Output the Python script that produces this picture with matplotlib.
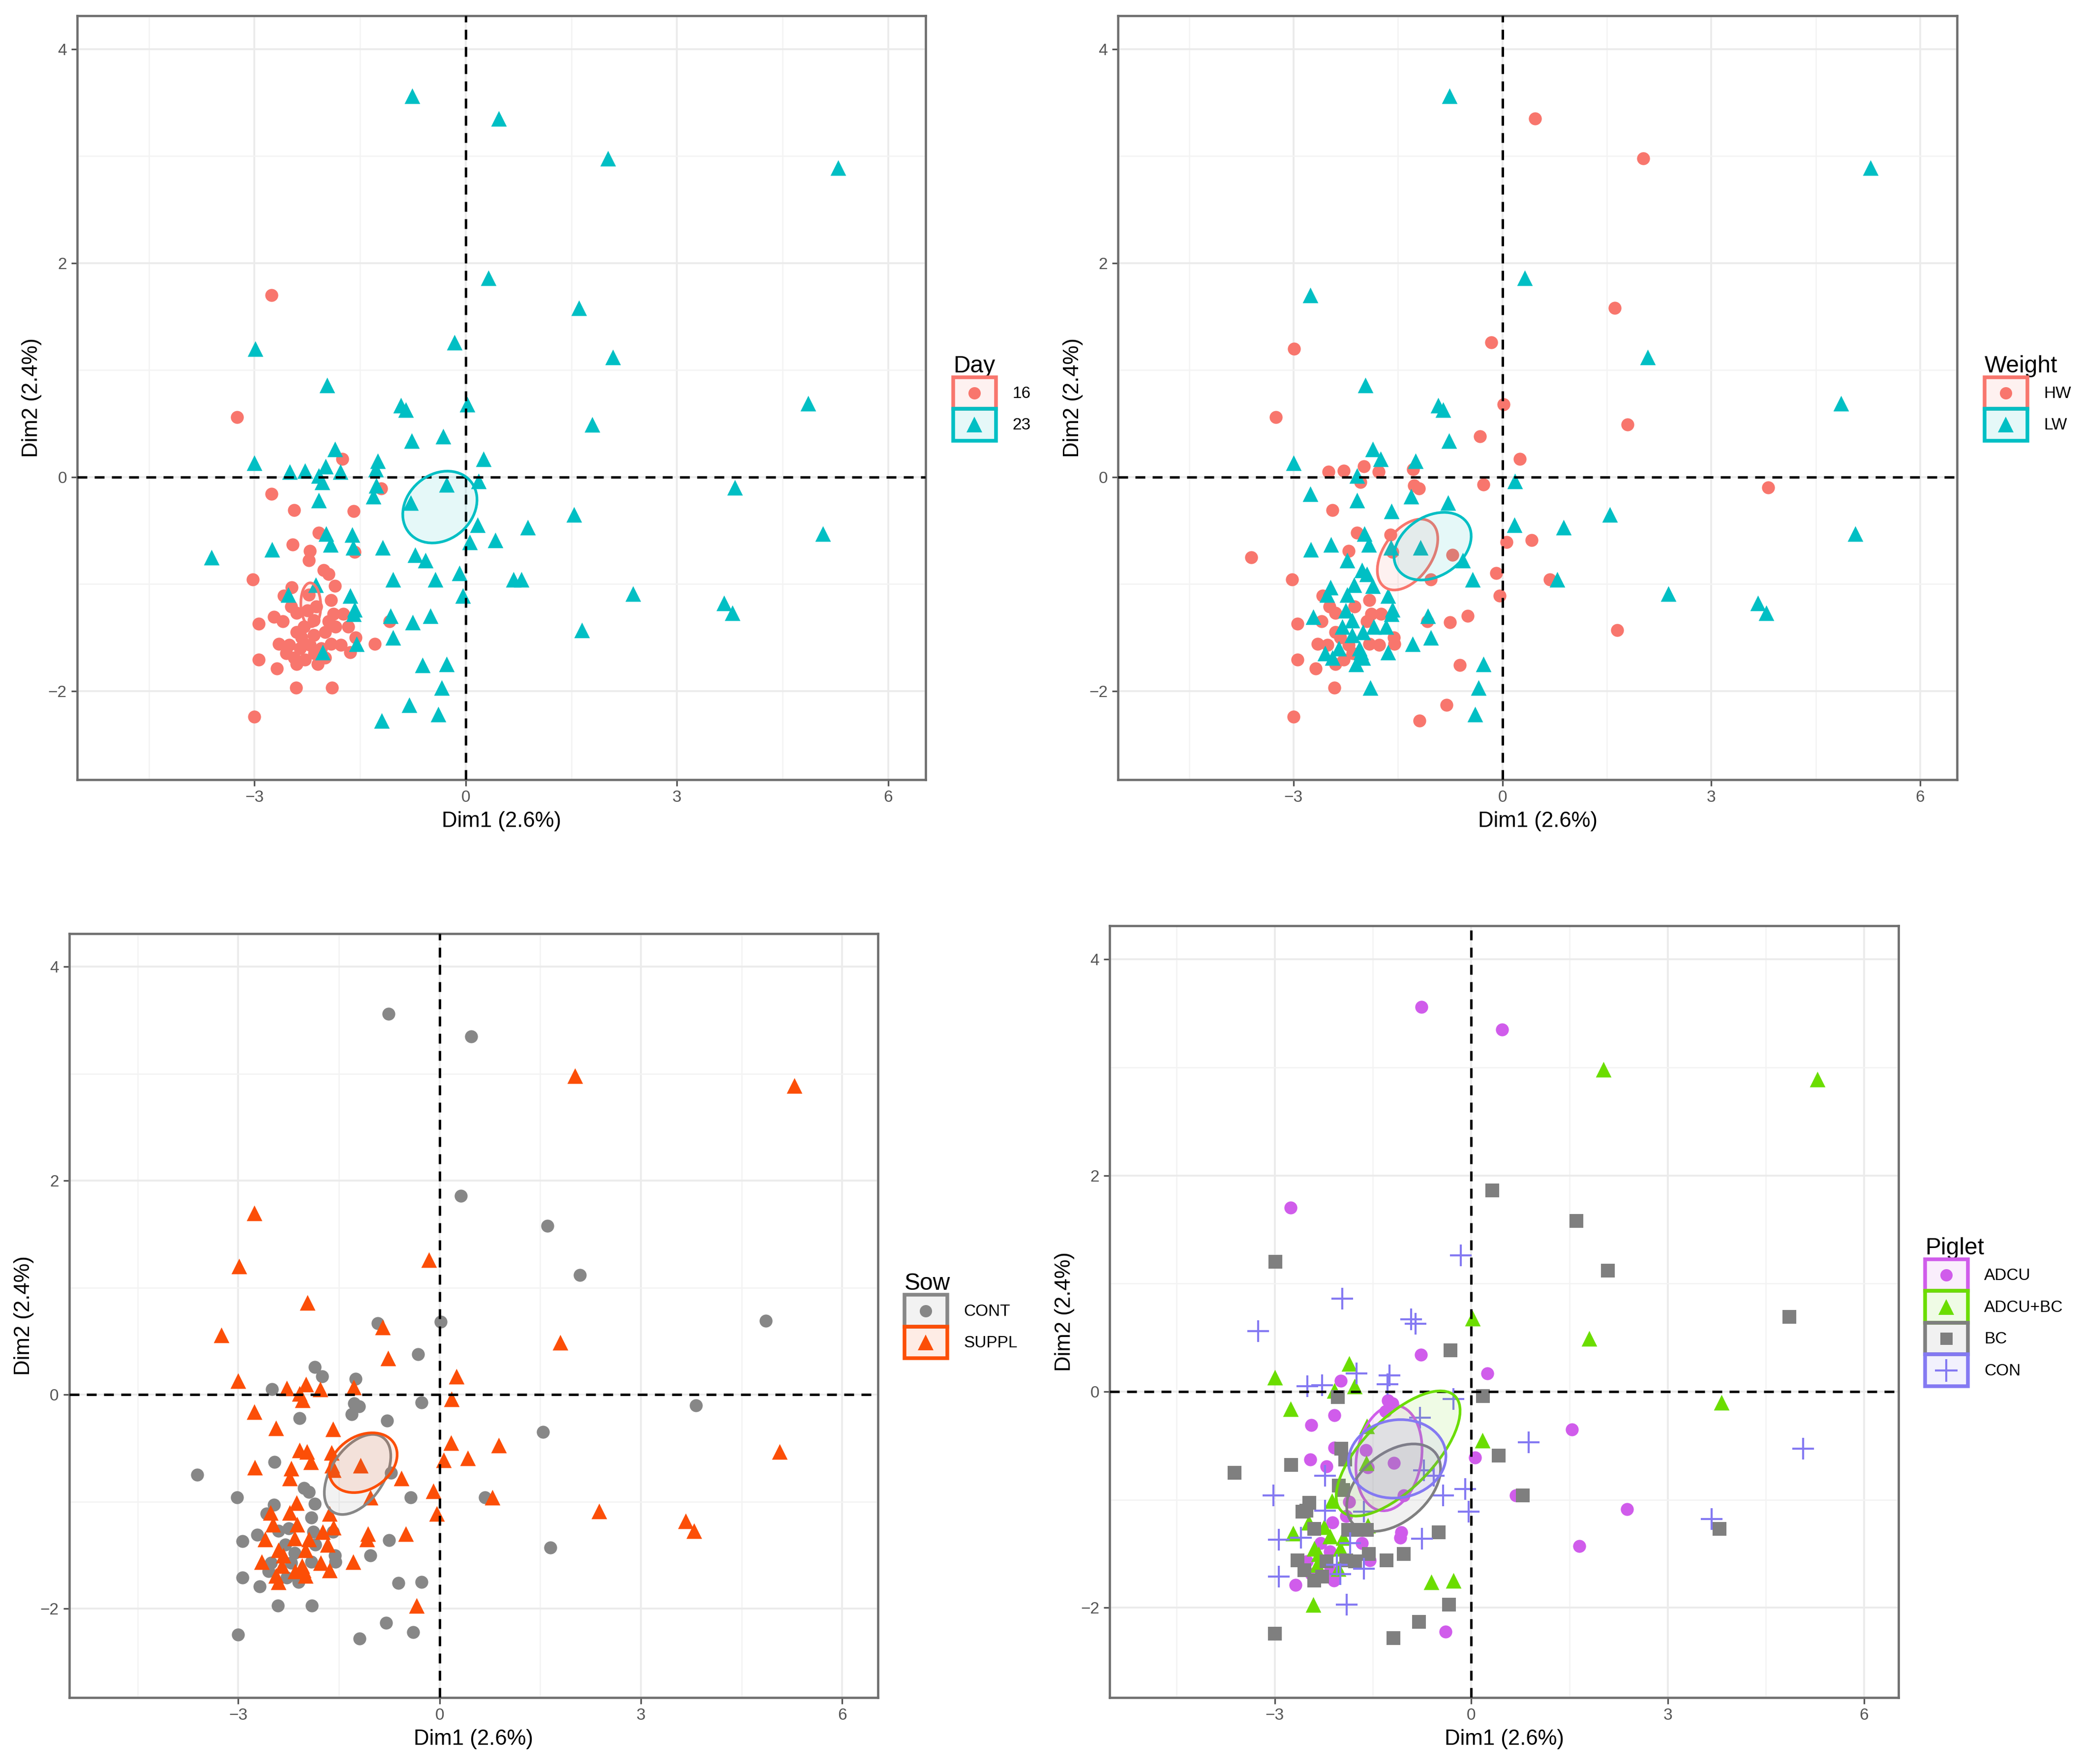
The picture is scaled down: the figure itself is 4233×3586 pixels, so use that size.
import numpy as np
import matplotlib
matplotlib.use("Agg")
import matplotlib.pyplot as plt
from matplotlib.patches import Rectangle, Ellipse
from matplotlib.lines import Line2D
from matplotlib.legend_handler import HandlerBase
from matplotlib.colors import to_rgba

plt.rcParams['font.family'] = ['Liberation Sans', 'DejaVu Sans']

# =========================
# 1. Data (PCA individuals, Dim1 / Dim2)
# =========================
dim1 = [
    -0.76, 0.47, 2.02, 5.29, 0.32, 1.61, -0.16, 2.09, -2.76, -2.99,
    -1.97, 4.86, -0.92, -0.85, 0.02, 1.80, -0.77, -0.32, -3.25, -1.86,
    -1.75, 0.25, -3.00, -1.25, -2.50, -2.28, -1.99, -1.78, -2.09, -2.04,
    -1.28, 0.18, 3.82, -1.27, -1.20, -1.31, -0.27, -0.78, -2.09, -2.76,
    -2.44, -1.59, 1.54, 0.17, 0.88, 5.07, 0.42, 0.06, -2.09, -1.98,
    -1.61, -2.46, -1.92, -2.75, -3.61, -1.18, -0.72, -0.57, -0.09, -0.43,
    -1.03, 0.68, 0.79, -3.02, -0.04, 2.38, 3.67, 3.79, 1.65, -0.75,
    -0.50, -1.07, -1.03, -0.61, -0.27, -0.34, -0.80, -0.39, -1.19, -1.90,
    -2.41, -3.00, -2.94, -2.68, -2.94, -2.72, -1.29, -1.64, -2.03, -1.55,
    -1.58, -1.59, -2.13, -1.64, -2.52, -1.60, -1.58, -1.08,
    -2.21, -2.23, -2.02, -1.95, -2.47, -1.86, -2.58, -2.23, -1.91, -2.48,
    -2.40, -2.12, -1.88, -1.74, -2.16, -1.67, -1.56, -2.33, -2.16, -2.00,
    -2.65, -2.51, -2.35, -2.21, -2.05, -1.91, -2.44, -2.28, -2.00, -1.77,
    -2.30, -2.40, -2.55, -2.15, -1.85, -2.60, -2.10, -2.40, -2.25, -1.95,
]
dim2 = [
    3.56, 3.35, 2.98, 2.89, 1.86, 1.58, 1.26, 1.12, 1.70, 1.20,
    0.86, 0.69, 0.67, 0.63, 0.68, 0.49, 0.34, 0.38, 0.56, 0.26,
    0.17, 0.17, 0.13, 0.15, 0.05, 0.06, 0.10, 0.05, 0.01, -0.05,
    0.07, -0.04, -0.10, -0.08, -0.11, -0.18, -0.07, -0.24, -0.22, -0.16,
    -0.31, -0.32, -0.35, -0.45, -0.47, -0.53, -0.59, -0.61, -0.52, -0.53,
    -0.54, -0.63, -0.63, -0.68, -0.75, -0.66, -0.73, -0.78, -0.90, -0.96,
    -0.96, -0.96, -0.96, -0.96, -1.11, -1.09, -1.18, -1.27, -1.43, -1.36,
    -1.30, -1.30, -1.50, -1.76, -1.75, -1.97, -2.13, -2.22, -2.28, -1.97,
    -1.97, -2.24, -1.71, -1.79, -1.37, -1.31, -1.56, -1.64, -1.64, -1.56,
    -1.24, -1.28, -1.01, -1.11, -1.10, -0.66, -0.70, -1.35,
    -0.69, -0.78, -0.87, -0.91, -1.03, -1.02, -1.11, -1.10, -1.15, -1.21,
    -1.27, -1.21, -1.28, -1.28, -1.34, -1.40, -1.50, -1.50, -1.48, -1.45,
    -1.56, -1.57, -1.60, -1.57, -1.60, -1.56, -1.69, -1.71, -1.69, -1.57,
    -1.40, -1.45, -1.65, -1.65, -1.40, -1.35, -1.75, -1.75, -1.25, -1.35,
]
day = [
    23, 23, 23, 23, 23, 23, 23, 23, 16, 23,
    23, 23, 23, 23, 23, 23, 23, 23, 16, 23,
    16, 23, 23, 23, 23, 23, 23, 23, 23, 23,
    23, 23, 23, 23, 16, 23, 23, 23, 23, 16,
    16, 16, 23, 23, 23, 23, 23, 23, 16, 23,
    23, 16, 23, 23, 23, 23, 23, 23, 23, 23,
    23, 23, 23, 16, 23, 23, 23, 23, 23, 23,
    23, 23, 23, 23, 23, 23, 23, 23, 23, 16,
    16, 16, 16, 16, 16, 16, 16, 16, 23, 23,
    23, 23, 23, 23, 23, 23, 16, 16,
] + [16] * 40
weight = list(
    "LHHLLHHLLH" "LLLLHHLHHL" "LHLLHHHHLH" "HLHHHLHLLL"
    "HLLLLLHHHL" "HLLLHLHLHL" "HHLHHLLLHH" "HLLHLLHLHL"
    "HHHHHLLLLH" "LLLLLLHH"
    "HLLLLLHLHH" "HHHHLLHHLL" "HHLHLHLHLH" "LHLHLHLHLH"
)
sow = list(
    "CCSSCCSCSS" "SCCSCSSCSC" "CSSCCSSSSS" "SSCCCCCCCS"
    "SSCSSSSSSS" "SCSSCSCSSC" "SCSCSSSSCC" "SSCCCSCCCC"
    "CCCCCCSSSC" "SCSSSSSS"
    "SSCCCCCSCS" "CSCSSSCSCS" "SCSCSCSCSS" "CSCSCSCSCS"
)
piglet = [
    "A", "A", "AB", "AB", "B", "B", "N", "B", "A", "B",
    "N", "B", "N", "N", "AB", "AB", "A", "B", "N", "AB",
    "N", "A", "AB", "N", "N", "N", "A", "AB", "AB", "B",
    "N", "B", "AB", "A", "A", "A", "N", "N", "A", "AB",
    "A", "AB", "A", "AB", "N", "N", "B", "A", "A", "B",
    "A", "A", "B", "B", "B", "A", "N", "N", "N", "N",
    "A", "A", "B", "N", "N", "A", "N", "B", "A", "N",
    "B", "A", "B", "AB", "AB", "B", "B", "A", "B", "N",
    "AB", "B", "N", "A", "N", "AB", "B", "N", "AB", "A",
    "AB", "B", "AB", "N", "B", "AB", "A", "A",
    "A", "N", "B", "B", "B", "A", "B", "N", "A", "AB",
    "B", "A", "B", "B", "AB", "A", "B", "AB", "A", "AB",
    "B", "A", "AB", "B", "N", "B", "A", "B", "N", "B",
    "A", "AB", "B", "A", "N", "N", "A", "B", "AB", "AB",
]

x = np.array(dim1)
y = np.array(dim2)

# group definitions: (code, label, colour, marker)
panels = [
    ("Day", np.array(day), [(16, "16", "#F8766D", "o"), (23, "23", "#00BFC4", "^")]),
    ("Weight", np.array(weight), [("H", "HW", "#F8766D", "o"), ("L", "LW", "#00BFC4", "^")]),
    ("Sow", np.array(sow), [("C", "CONT", "#878787", "o"), ("S", "SUPPL", "#FC4E07", "^")]),
    ("Piglet", np.array(piglet), [("A", "ADCU", "#D05CEB", "o"), ("AB", "ADCU+BC", "#6BDD00", "^"),
                                  ("B", "BC", "#7F7F7F", "s"), ("N", "CON", "#8479F2", "+")]),
]

# axes rectangles in figure fraction
boxes = [
    [0.0370, 0.558, 0.4075, 0.433],
    [0.537, 0.558, 0.403, 0.433],
    [0.0332, 0.0377, 0.3884, 0.433],
    [0.533, 0.0377, 0.379, 0.4375],
]

msize = {"o": 40, "^": 58, "s": 42, "+": 110}
lsize = {"o": 6.0, "^": 7.5, "s": 6.0, "+": 11.0}


def conf_ellipse(px, py, color):
    n = len(px)
    cov = np.cov(px, py) / n
    vals, vecs = np.linalg.eigh(cov)
    k = np.sqrt(-2 * np.log(0.05))
    ang = np.degrees(np.arctan2(vecs[1, 1], vecs[0, 1]))
    return Ellipse((px.mean(), py.mean()), 2 * k * np.sqrt(vals[1]), 2 * k * np.sqrt(vals[0]),
                   angle=ang, facecolor=to_rgba(color, 0.1), edgecolor=color, linewidth=1.3, zorder=5)


class KeyHandler(HandlerBase):
    # ggplot-like key: square with coloured border and light fill, marker in the middle
    def create_artists(self, legend, orig, xd, yd, w, h, fs, trans):
        col = orig.get_color()
        r = Rectangle((-xd, -yd), w, h, facecolor=to_rgba(col, 0.1), edgecolor=col,
                      linewidth=1.8, transform=trans)
        m = Line2D([-xd + w / 2], [-yd + h / 2], marker=orig.get_marker(), color=col,
                   linestyle="none", markersize=orig.get_markersize(),
                   markeredgewidth=orig.get_markeredgewidth(), transform=trans)
        return [r, m]


# =========================
# 2. Figure
# =========================
fig = plt.figure(figsize=(4233 / 300, 3586 / 300), dpi=300)

for (title, groups, levels), box in zip(panels, boxes):
    ax = fig.add_axes(box)
    handles = []
    labels = []
    for code, lab, col, mk in levels:
        m = groups == code
        if mk == "+":
            ax.scatter(x[m], y[m], marker=mk, s=msize[mk], color=col, linewidths=1.0, zorder=3)
        else:
            ax.scatter(x[m], y[m], marker=mk, s=msize[mk], color=col, linewidths=0, zorder=3)
        ax.add_patch(conf_ellipse(x[m], y[m], col))
        handles.append(Line2D([], [], marker=mk, color=col, linestyle="none", markersize=lsize[mk],
                              markeredgewidth=1.0 if mk == "+" else 0))
        labels.append(lab)

    ax.axhline(0, color="black", linestyle=(0, (4, 3)), linewidth=1.2, zorder=4)
    ax.axvline(0, color="black", linestyle=(0, (4, 3)), linewidth=1.2, zorder=4)

    ax.set_xlim(-5.52, 6.53)
    ax.set_ylim(-2.83, 4.31)
    ax.set_xticks([-3, 0, 3, 6])
    ax.set_yticks([-2, 0, 2, 4])
    ax.set_xticks([-4.5, -1.5, 1.5, 4.5], minor=True)
    ax.set_yticks([-1, 1, 3], minor=True)
    ax.grid(True, which="major", color="#EBEBEB", linewidth=0.9, zorder=0)
    ax.grid(True, which="minor", color="#F3F3F3", linewidth=0.6, zorder=0)
    ax.set_axisbelow(True)
    ax.tick_params(which="major", direction="out", length=3, width=0.8, color="#555555",
                   labelsize=8, labelcolor="#555555", pad=2)
    ax.tick_params(which="minor", length=0)
    for s in ax.spines.values():
        s.set_color("#6E6E6E")
        s.set_linewidth(1.1)

    ax.set_xlabel("Dim1 (2.6%)", fontsize=10.5, labelpad=3)
    ax.set_ylabel("Dim2 (2.4%)", fontsize=10.5, labelpad=3)

    ax.legend(handles, labels, handler_map={Line2D: KeyHandler()},
              title=title, loc="center left", bbox_to_anchor=(1.025, 0.5),
              frameon=False, fontsize=8, title_fontsize=11.5,
              handlelength=2.6, handleheight=2.6, labelspacing=0.0,
              handletextpad=1.0, alignment="left", borderaxespad=0)

fig.savefig("out.png", dpi=300)
plt.close(fig)
print("saved out.png")
